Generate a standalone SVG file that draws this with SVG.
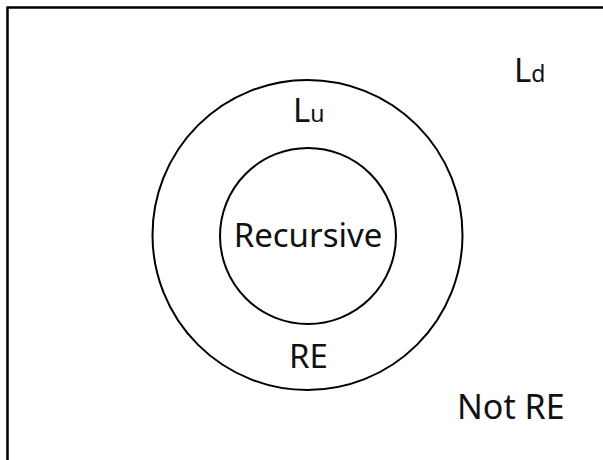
<svg xmlns="http://www.w3.org/2000/svg" width="603" height="460" viewBox="0 0 603 460">
<style>
.frame{fill:none;stroke:#000;stroke-width:2.5}
.ring{fill:none;stroke:#000;stroke-width:2}
text{font-family:"Noto Sans","Noto Sans CJK KR",sans-serif;font-size:33px;fill:#111}
.sub{font-size:23px}
</style>
<rect width="603" height="460" fill="#fff"/>
<rect class="frame" x="7.5" y="7.5" width="620" height="480"/>
<g id="outer"><circle class="ring" cx="307.5" cy="235" r="155"/></g>
<g id="inner"><circle class="ring" cx="308" cy="236" r="88"/></g>
<g id="labels">
<text x="514" y="82">L<tspan class="sub">d</tspan></text>
<text x="293" y="122">L<tspan class="sub">u</tspan></text>
<text x="308" y="247" text-anchor="middle">Recursive</text>
<text x="289" y="368">RE</text>
<text x="457" y="419" style="font-size:34px">Not RE</text>
</g>
</svg>
